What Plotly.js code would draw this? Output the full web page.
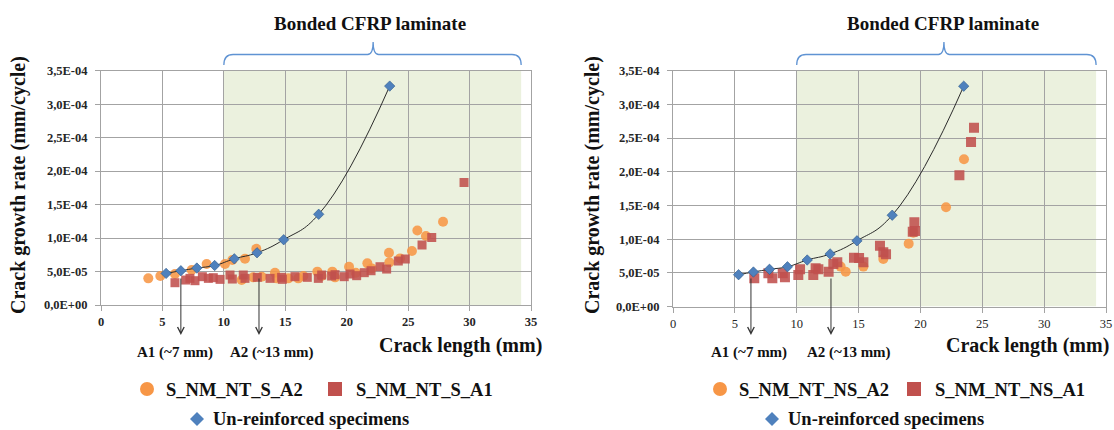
<!DOCTYPE html>
<html>
<head>
<meta charset="utf-8">
<script src="https://cdn.plot.ly/plotly-3.0.1.min.js"></script>
<style>html,body{margin:0;padding:0;background:#fff;}#chart{width:1114px;height:430px;}</style>
</head>
<body>
<div id="chart"></div>
<script>
// ---------- data ----------
const xTickVals = [0, 5, 10, 15, 20, 25, 30, 35];
const yTickVals = [0, 5e-5, 1e-4, 1.5e-4, 2e-4, 2.5e-4, 3e-4, 3.5e-4];
const yTickText = ['0,0E+00', '5,0E-05', '1,0E-04', '1,5E-04', '2,0E-04', '2,5E-04', '3,0E-04', '3,5E-04'];

// Un-reinforced specimens (same reference curve in both panels)
const unreinforcedX = [5.3, 6.5, 7.8, 9.25, 10.85, 12.7, 14.87, 17.72, 23.5];
const unreinforcedY = [4.72e-5, 5.12e-5, 5.52e-5, 5.9e-5, 6.9e-5, 7.8e-5, 9.75e-5, 13.55e-5, 32.7e-5];

// Left panel: S_NM_NT_S_A2 (orange circles)
const leftA2X = [3.85, 4.83, 6.02, 7.38, 8.6, 10.09, 10.69, 11.72, 12.64, 11.45, 12.4, 13.08, 14.16, 14.3, 15.25, 16.06, 16.47, 17.61, 17.96, 18.83, 19.05, 20.19, 20.73, 21.68, 22.03, 23.44, 23.47, 24.34, 25.31, 25.75, 26.45, 27.84];
const leftA2Y = [3.98e-5, 4.33e-5, 4.63e-5, 5.22e-5, 6.12e-5, 6.12e-5, 6.72e-5, 6.91e-5, 8.41e-5, 3.73e-5, 4.13e-5, 4.23e-5, 4.83e-5, 3.98e-5, 3.98e-5, 3.98e-5, 4.33e-5, 4.98e-5, 4.33e-5, 4.98e-5, 4.13e-5, 5.72e-5, 4.83e-5, 6.22e-5, 5.47e-5, 7.81e-5, 6.37e-5, 6.96e-5, 8.06e-5, 11.14e-5, 10.3e-5, 12.44e-5];

// Left panel: S_NM_NT_S_A1 (red squares)
const leftA1X = [6.02, 6.89, 7.24, 7.65, 8.25, 8.74, 9.14, 9.69, 10.5, 10.69, 11.58, 11.72, 12.72, 13.76, 14.7, 14.76, 15.79, 16.79, 17.69, 17.96, 18.77, 19.05, 19.8, 20.27, 20.81, 21.43, 21.98, 22.71, 23.25, 24.2, 24.77, 26.13, 26.92, 29.55];
const leftA1Y = [3.33e-5, 3.73e-5, 3.98e-5, 3.63e-5, 4.23e-5, 3.98e-5, 4.08e-5, 3.83e-5, 4.48e-5, 3.88e-5, 4.48e-5, 3.98e-5, 4.13e-5, 3.98e-5, 4.13e-5, 3.83e-5, 4.23e-5, 4.13e-5, 3.98e-5, 4.48e-5, 4.33e-5, 4.53e-5, 4.23e-5, 4.63e-5, 4.38e-5, 4.83e-5, 5.12e-5, 5.72e-5, 5.37e-5, 6.57e-5, 6.87e-5, 8.96e-5, 10.1e-5, 18.3e-5];

// Right panel: S_NM_NT_NS_A2 (orange circles)
const rightA2X = [13.55, 13.96, 15.39, 17.0, 19.05, 19.43, 22.07, 23.52];
const rightA2Y = [5.92e-5, 5.17e-5, 5.92e-5, 7.05e-5, 9.33e-5, 10.96e-5, 14.72e-5, 21.85e-5];

// Right panel: S_NM_NT_NS_A1 (red squares)
const rightA1X = [6.57, 7.71, 8.03, 8.87, 9.05, 10.13, 10.27, 11.34, 11.53, 11.75, 12.58, 12.96, 13.28, 14.63, 15.04, 15.39, 16.73, 17.0, 17.22, 19.38, 19.51, 19.56, 23.15, 24.09, 24.33];
const rightA1Y = [4.18e-5, 4.93e-5, 4.18e-5, 4.93e-5, 4.33e-5, 4.68e-5, 5.52e-5, 4.68e-5, 5.67e-5, 5.52e-5, 5.17e-5, 6.31e-5, 6.56e-5, 7.25e-5, 7.2e-5, 6.56e-5, 9.03e-5, 8.04e-5, 7.75e-5, 11.11e-5, 12.5e-5, 11.2e-5, 19.48e-5, 24.42e-5, 26.55e-5];

const leftNames = ['S_NM_NT_S_A2', 'S_NM_NT_S_A1', 'Un-reinforced specimens'];
const rightNames = ['S_NM_NT_NS_A2', 'S_NM_NT_NS_A1', 'Un-reinforced specimens'];
const bondedRange = [10, 34.2];
const braceTip = [22.15, 21.9];
const arrowLeftX = [6.5, 12.86];
const arrowRightX = [6.3, 12.77];
const arrowLabels = ['A1 (~7 mm)', 'A2 (~13 mm)'];
const bracketTitle = 'Bonded CFRP laminate';
const yTitle = 'Crack growth rate (mm/cycle)';
const xTitle = 'Crack length (mm)';

// ---------- styles ----------
const W = 1114, H = 430;
const px = v => v / W;
const py = v => 1 - v / H;
const SERIF = '"Liberation Serif", "Times New Roman", serif';
const ORANGE = '#F79646', RED = '#C0504D', BLUE = '#4F81BD';
const GRID = '#A3A3A3';
const BRACE = '#5F93D3';

function markers(x, y, xa, ya, symbol, color, size, opacity, lineColor) {
  return {x, y, xaxis: xa, yaxis: ya, type: 'scatter', mode: 'markers', hoverinfo: 'skip',
    marker: {symbol, color, size, opacity, line: {width: lineColor ? 0.6 : 0, color: lineColor || color}}};
}
function curve(x, y, xa, ya) {
  return {x, y, xaxis: xa, yaxis: ya, type: 'scatter', mode: 'lines', hoverinfo: 'skip',
    line: {shape: 'spline', smoothing: 1.3, color: '#2b2b2b', width: 1}};
}

const data = [
  markers(leftA2X, leftA2Y, 'x', 'y', 'circle', ORANGE, 10, 0.88),
  markers(leftA1X, leftA1Y, 'x', 'y', 'square', RED, 9, 0.88),
  curve(unreinforcedX, unreinforcedY, 'x', 'y'),
  markers(unreinforcedX, unreinforcedY, 'x', 'y', 'diamond', BLUE, 8, 1, '#2E5A8C'),
  markers(rightA2X, rightA2Y, 'x2', 'y2', 'circle', ORANGE, 10, 0.88),
  markers(rightA1X, rightA1Y, 'x2', 'y2', 'square', RED, 10, 0.88),
  curve(unreinforcedX, unreinforcedY, 'x2', 'y2'),
  markers(unreinforcedX, unreinforcedY, 'x2', 'y2', 'diamond', BLUE, 8, 1, '#2E5A8C')
];

function xaxis(domain, anchor, bold) {
  return {domain, anchor, range: [0, 35], tickvals: xTickVals, ticktext: xTickVals.map(String),
    showgrid: true, gridcolor: GRID, gridwidth: 1, zeroline: false,
    showline: true, linecolor: GRID, linewidth: 1, mirror: true,
    ticks: 'outside', ticklen: 5, tickcolor: GRID,
    tickfont: {family: SERIF, size: 12.5, color: '#262626', weight: bold ? 'bold' : 'normal'}, fixedrange: true};
}
function yaxis(domain, anchor) {
  return {domain, anchor, range: [0, 3.5e-4], tickvals: yTickVals, ticktext: yTickText,
    showgrid: true, gridcolor: GRID, gridwidth: 1, zeroline: false,
    showline: true, linecolor: GRID, linewidth: 1, mirror: true,
    ticks: 'outside', ticklen: 5, tickcolor: GRID, ticklabelstandoff: 5,
    tickfont: {family: SERIF, size: 12.5, color: '#262626', weight: 'bold'}, fixedrange: true};
}

const shapes = [];
const annotations = [];

function panel(xa, ya, names, tipX, arrowsX, titleCx, yTitleCx, xTitleCx, arrowLabelCx, legend) {
  // bonded region shading
  shapes.push({type: 'rect', xref: xa, yref: ya, x0: bondedRange[0], x1: bondedRange[1], y0: 0, y1: 3.5e-4,
    fillcolor: '#EBF1DE', line: {width: 0}, layer: 'below'});
  // curly brace
  const yEnd = py(65), yLine = py(54.5), yTip = py(42);
  const a = bondedRange[0], b = bondedRange[1], r = 0.75, t = 0.45;
  const path = `M${a},${yEnd} Q${a},${yLine} ${a + r},${yLine} L${tipX - t},${yLine} Q${tipX},${yLine} ${tipX},${yTip} ` +
               `Q${tipX},${yLine} ${tipX + t},${yLine} L${b - r},${yLine} Q${b},${yLine} ${b},${yEnd}`;
  shapes.push({type: 'path', xref: xa, yref: 'paper', path, line: {color: BRACE, width: 1.3}});
  annotations.push({text: bracketTitle, xref: 'paper', yref: 'paper', x: px(titleCx), y: py(23), xanchor: 'center', yanchor: 'middle',
    showarrow: false, font: {family: SERIF, size: 19, color: '#111', weight: 'bold'}});
  annotations.push({text: yTitle, xref: 'paper', yref: 'paper', x: px(yTitleCx), y: py(185), xanchor: 'center', yanchor: 'middle',
    textangle: -90, showarrow: false, font: {family: SERIF, size: 20, color: '#111', weight: 'bold'}});
  annotations.push({text: xTitle, xref: 'paper', yref: 'paper', x: px(xTitleCx), y: py(345), xanchor: 'center', yanchor: 'middle',
    showarrow: false, font: {family: SERIF, size: 20, color: '#111', weight: 'bold'}});
  arrowsX.forEach((ax, i) => {
    annotations.push({text: '', xref: xa, yref: 'paper', x: ax, y: py(335), ax: 0, ay: -58, axref: 'pixel', ayref: 'pixel',
      showarrow: true, arrowhead: 5, arrowsize: 1.3, arrowwidth: 1, arrowcolor: '#333', standoff: 0, startstandoff: 0});
    annotations.push({text: arrowLabels[i], xref: 'paper', yref: 'paper', x: px(arrowLabelCx[i]), y: py(352), xanchor: 'center', yanchor: 'middle',
      showarrow: false, font: {family: SERIF, size: 15, color: '#111', weight: 'bold'}});
  });
  // legend
  const [c1, s2, d3] = legend;
  shapes.push({type: 'circle', xref: 'paper', yref: 'paper', x0: px(c1 - 7), x1: px(c1 + 7), y0: py(389 + 7), y1: py(389 - 7),
    fillcolor: ORANGE, line: {width: 0}});
  shapes.push({type: 'rect', xref: 'paper', yref: 'paper', x0: px(s2 - 7), x1: px(s2 + 7), y0: py(389 + 7), y1: py(389 - 7),
    fillcolor: RED, line: {width: 0}});
  shapes.push({type: 'path', xref: 'paper', yref: 'paper',
    path: `M${px(d3 - 7)},${py(419)} L${px(d3)},${py(412)} L${px(d3 + 7)},${py(419)} L${px(d3)},${py(426)} Z`,
    fillcolor: BLUE, line: {width: 0}});
  const lf = {family: SERIF, size: 18.5, color: '#111', weight: 'bold'};
  annotations.push({text: names[0], xref: 'paper', yref: 'paper', x: px(c1 + 17), y: py(390), xanchor: 'left', yanchor: 'middle', showarrow: false, font: lf});
  annotations.push({text: names[1], xref: 'paper', yref: 'paper', x: px(s2 + 19), y: py(390), xanchor: 'left', yanchor: 'middle', showarrow: false, font: lf});
  annotations.push({text: names[2], xref: 'paper', yref: 'paper', x: px(d3 + 14), y: py(419), xanchor: 'left', yanchor: 'middle', showarrow: false, font: lf});
}

panel('x', 'y', leftNames, braceTip[0], arrowLeftX, 370, 18, 460, [175, 272], [147, 335, 197]);
panel('x2', 'y2', rightNames, braceTip[1], arrowRightX, 943, 592, 1027, [749, 849], [720, 914, 772]);

const layout = {
  width: W, height: H,
  margin: {l: 0, r: 0, t: 0, b: 0, pad: 0},
  paper_bgcolor: '#ffffff', plot_bgcolor: '#ffffff',
  showlegend: false,
  xaxis: xaxis([px(101), px(531)], 'y', true),
  yaxis: yaxis([py(305), py(70.7)], 'x'),
  xaxis2: xaxis([px(673), px(1106)], 'y2', false),
  yaxis2: yaxis([py(306.5), py(70.7)], 'x2'),
  shapes, annotations
};

Plotly.newPlot('chart', data, layout, {displayModeBar: false, staticPlot: true});
</script>
</body>
</html>
